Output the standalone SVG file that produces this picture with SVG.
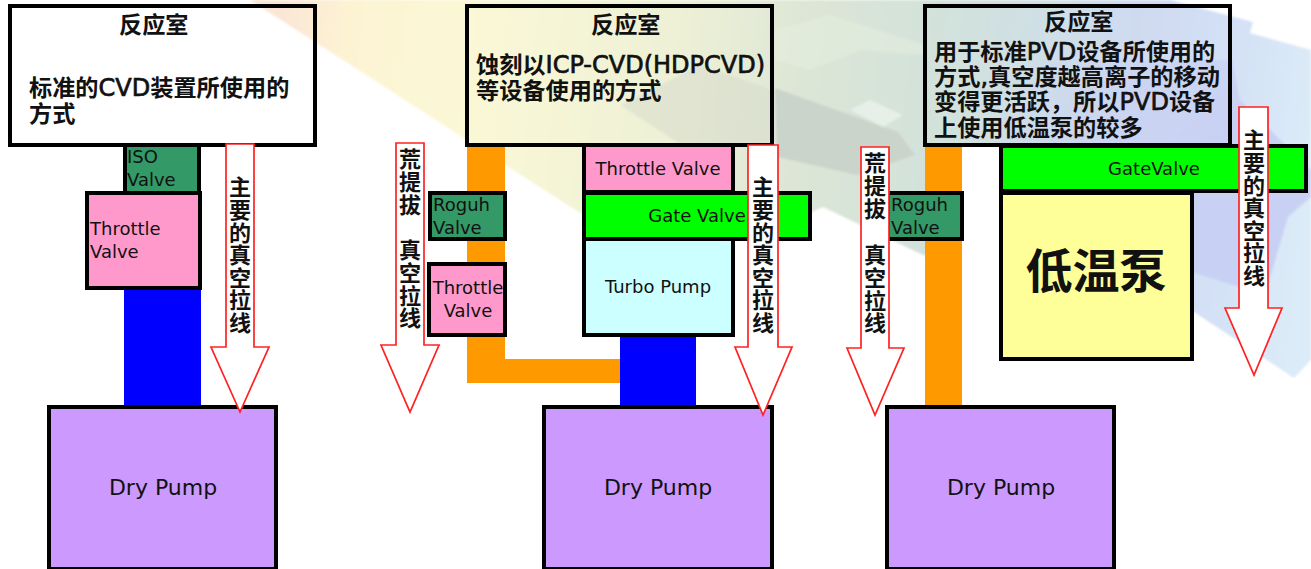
<svg xmlns="http://www.w3.org/2000/svg" width="1311" height="569" viewBox="0 0 1311 569">
<style>
.b{stroke:#000;stroke-width:4}
.n{fill:none}
.c{font-family:"Noto Sans CJK SC","Noto Sans",sans-serif;font-weight:700;fill:#111}
.t{font-size:23.2px}
.x{font-family:"DejaVu Sans",sans-serif;font-size:24px;font-weight:400;stroke:#111;stroke-width:.7}
.l{font-family:"DejaVu Sans",sans-serif;font-size:18px;fill:#111}
.d{font-size:22px;writing-mode:vertical-rl;letter-spacing:.6px}
.a{fill:#fff;stroke:#f22;stroke-width:1.7}
.m{font-family:"DejaVu Sans",sans-serif;text-anchor:middle;fill:#111}
</style>
<defs>
<linearGradient id="band" gradientUnits="userSpaceOnUse" x1="280" y1="60" x2="1311" y2="160">
<stop offset="0" stop-color="#fbe6d6"/><stop offset=".06" stop-color="#fdf3d3"/><stop offset=".18" stop-color="#fbf8d6"/><stop offset=".38" stop-color="#eef1d6"/><stop offset=".5" stop-color="#dde6d6"/><stop offset=".62" stop-color="#d3e2da"/><stop offset=".72" stop-color="#cfe0e4"/><stop offset=".82" stop-color="#cfdaf0"/><stop offset=".92" stop-color="#d4e1f6"/><stop offset="1" stop-color="#dcebf8"/>
</linearGradient>
<linearGradient id="purple" gradientUnits="userSpaceOnUse" x1="1010" y1="40" x2="1200" y2="180">
<stop offset="0" stop-color="#c7cff3" stop-opacity="0"/><stop offset="1" stop-color="#c7cff3" stop-opacity=".9"/>
</linearGradient>
<filter id="soft" x="0" y="0" width="1" height="1"><feGaussianBlur stdDeviation="1.2"/></filter>
</defs>
<rect width="1311" height="569" fill="#fff"/>
<g id="background" filter="url(#soft)">
<polygon points="250,0 1170,0 1253,22 1250,33 1311,50 1311,360 1294,378 1194,312 1000,280 923,255 823,207 812,212 760,235 580,213" fill="url(#band)"/>
<polygon points="1000,60 1232,60 1240,100 1311,170 1311,197 1288,217 1265,295 1194,273 1000,200" fill="url(#purple)"/>
<polygon points="775,88 898,132 915,155 857,175 777,157" fill="#cbd4ca"/>
<polygon points="850,110 870,100 903,115 883,127" fill="#e6f0e8"/>
<polygon points="775,30 830,15 925,45 925,55 860,50 810,70 775,60" fill="#e6efe0" fill-opacity=".5"/>
<polygon points="620,105 700,65 772,90 772,144 680,144" fill="#d8dccb" fill-opacity=".6"/>
</g>
<g id="connectors">
<rect x="962" y="146" width="38" height="260" fill="#fff"/>
<rect x="124" y="290" width="77" height="116" fill="#00f"/>
<path d="M467 146H505V359H620V383H467Z" fill="#f90"/>
<rect x="620" y="335" width="76" height="71" fill="#00f"/>
<rect x="925" y="146" width="37" height="260" fill="#f90"/>
</g>
<g id="chamber-1"><rect class="b n" x="10" y="6" width="305" height="139"/>
<text class="c t" x="119" y="33">反应室</text>
<text class="c t" x="29" y="96">标准的<tspan class="x">CVD</tspan>装置所使用的</text>
<text class="c t" x="29" y="122">方式</text></g>
<g id="iso-valve"><rect class="b" x="125" y="145" width="74" height="48" fill="#396"/>
<text class="l" x="127" y="163">ISO</text><text class="l" x="127" y="186">Valve</text></g>
<g id="throttle-1"><rect class="b" x="87" y="193" width="113" height="95" fill="#f9c"/>
<text class="l" x="90" y="235">Throttle</text><text class="l" x="90" y="258">Valve</text></g>
<g id="dry-pump-1"><rect class="b" x="49" y="407" width="227" height="162" fill="#c9f"/>
<text class="m" x="163" y="495" font-size="22">Dry Pump</text></g>
<g id="arrow-1"><path class="a" d="M226 144H254V347H269L240 412L211 347H226Z"/>
<text class="c d" x="240" y="176">主要的真空拉线</text></g>

<g id="arrow-2"><path class="a" d="M396 143H424V345H439L410 412L381 345H396Z"/>
<text class="c d" x="410" y="148">荒提拔</text><text class="c d" x="410" y="239">真空拉线</text></g>
<g id="chamber-2"><rect class="b n" x="467" y="6" width="305" height="139"/>
<text class="c t" x="591" y="33">反应室</text>
<text class="c t" x="476" y="73">蚀刻以<tspan class="x">ICP-CVD(HDPCVD)</tspan></text>
<text class="c t" x="476" y="99">等设备使用的方式</text></g>
<g id="rough-valve-2"><rect class="b" x="430" y="193" width="75" height="46" fill="#396"/>
<text class="l" x="433" y="211">Roguh</text><text class="l" x="433" y="234">Valve</text></g>
<g id="throttle-2"><rect class="b" x="429" y="264" width="76" height="71" fill="#f9c"/>
<text class="m" x="468" y="294" font-size="18">Throttle</text><text class="m" x="468" y="317" font-size="18">Valve</text></g>
<g id="throttle-2b"><rect class="b" x="584" y="145" width="149" height="47" fill="#f9c"/>
<text class="m" x="658" y="175" font-size="18">Throttle Valve</text></g>
<g id="gate-valve-2"><rect class="b" x="584" y="193" width="226" height="46" fill="#0f0"/>
<text class="m" x="697" y="222" font-size="18">Gate Valve</text></g>
<g id="turbo-pump"><rect class="b" x="584" y="239" width="149" height="96" fill="#cff"/>
<text class="m" x="658" y="293" font-size="18">Turbo Pump</text></g>
<g id="dry-pump-2"><rect class="b" x="544" y="407" width="228" height="162" fill="#c9f"/>
<text class="m" x="658" y="495" font-size="22">Dry Pump</text></g>
<g id="arrow-3"><path class="a" d="M748 145H778V347H792L763 415L735 347H748Z"/>
<text class="c d" x="763" y="176">主要的真空拉线</text></g>

<g id="rough-valve-3"><rect class="b" x="888" y="193" width="74" height="46" fill="#396"/>
<text class="l" x="891" y="211">Roguh</text><text class="l" x="891" y="234">Valve</text></g>
<g id="arrow-4"><path class="a" d="M861 147H889V348H904L875 415L847 348H861Z"/>
<text class="c d" x="875" y="152">荒提拔</text><text class="c d" x="875" y="244">真空拉线</text></g>
<g id="chamber-3"><rect class="b n" x="925" y="6" width="305" height="139"/>
<text class="c t" x="1044" y="30">反应室</text>
<text class="c t" x="934" y="60">用于标准<tspan class="x">PVD</tspan>设备所使用的</text>
<text class="c t" x="934" y="85">方式<tspan class="x">,</tspan>真空度越高离子的移动</text>
<text class="c t" x="934" y="110">变得更活跃，所以<tspan class="x">PVD</tspan>设备</text>
<text class="c t" x="934" y="136">上使用低温泵的较多</text></g>
<g id="gate-valve-3"><rect class="b" x="1001" y="146" width="305" height="45" fill="#0f0"/>
<text class="m" x="1154" y="175" font-size="18">GateValve</text></g>
<g id="cryo-pump"><rect class="b" x="1001" y="193" width="191" height="166" fill="#ff9"/>
<text class="c" x="1096" y="288" font-size="47" text-anchor="middle">低温泵</text></g>
<g id="dry-pump-3"><rect class="b" x="887" y="407" width="227" height="162" fill="#c9f"/>
<text class="m" x="1001" y="495" font-size="22">Dry Pump</text></g>
<g id="arrow-5"><path class="a" d="M1239 107H1268V308H1282L1254 375L1225 308H1239Z"/>
<text class="c d" x="1254" y="129">主要的真空拉线</text></g>
</svg>
